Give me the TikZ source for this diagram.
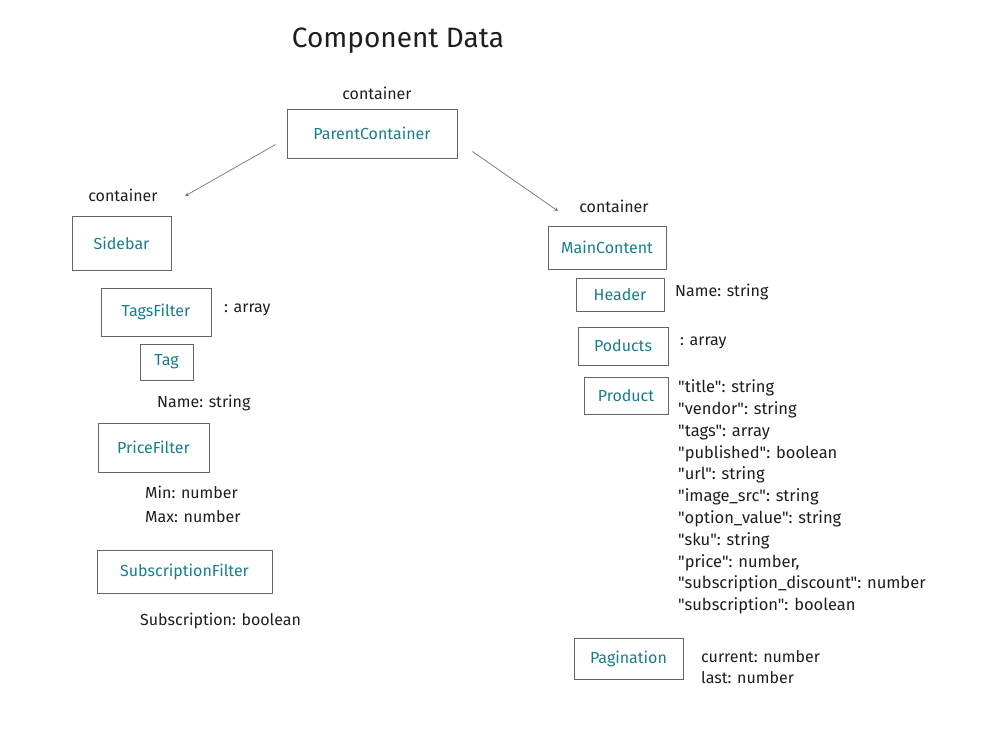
\documentclass[tikz,border=0pt]{standalone}
\usepackage{fontspec}
\setmainfont{Fira Sans}[Ligatures=TeXOff]
\definecolor{boxtext}{RGB}{25,125,140}
\definecolor{ink}{RGB}{30,30,30}
\tikzset{
  comp/.style={draw=black!60, line width=0.8pt, text=boxtext, font=\fontsize{16}{19}\selectfont, inner sep=0pt},
  note/.style={text=ink, font=\fontsize{16}{19}\selectfont, inner sep=0pt},
  link/.style={draw=black!55, line width=0.7pt, ->, >=stealth}
}
\begin{document}
\begin{tikzpicture}[x=1pt,y=-1pt]
\useasboundingbox (0,0) rectangle (1002,747);

\node[text=ink,font=\fontsize{28}{30}\selectfont] (title) at (398,41) {Component Data};

%parent
\node[note] (pccont) at (377,93) {container};
\node[comp,minimum width=170pt,minimum height=49pt] (pc) at (372,133.5) {ParentContainer};

%left column
\node[note] (sbcont) at (123,195) {container};
\node[comp,minimum width=99pt,minimum height=54pt] (sb) at (121.5,243) {Sidebar};
\node[comp,minimum width=110pt,minimum height=48pt] (tf) at (156,312) {TagsFilter};
\node[note,anchor=west] (tfnote) at (224,310) {: array};
\node[comp,minimum width=53pt,minimum height=36pt] (tag) at (166.5,362) {Tag};
\node[note,anchor=west] (tagnote) at (157,403) {Name: string};
\node[comp,minimum width=111pt,minimum height=49pt] (prf) at (153.5,447.5) {PriceFilter};
\node[note,anchor=west,align=left,font=\fontsize{16}{24}\selectfont] (prfnote) at (145,504) {Min: number\\Max: number};
\node[comp,minimum width=175pt,minimum height=43pt] (sf) at (184.5,571.5) {SubscriptionFilter};
\node[note,anchor=west] (sfnote) at (140,621) {Subscription: boolean};

%right column
\node[note] (mccont) at (614,206) {container};
\node[comp,minimum width=118pt,minimum height=43pt] (mc) at (607,247.5) {MainContent};
\node[comp,minimum width=88pt,minimum height=33pt] (hd) at (620,294.5) {Header};
\node[note,anchor=west] (hdnote) at (675,292) {Name: string};
\node[comp,minimum width=90pt,minimum height=38pt] (pd) at (623,346) {Poducts};
\node[note,anchor=west] (pdnote) at (680,343) {: array};
\node[comp,minimum width=84pt,minimum height=37pt] (pr) at (626,395.5) {Product};
\node[note,anchor=west,align=left,font=\fontsize{16.5}{21.8}\selectfont] (prnote) at (678,497) {"title": string\\"vendor": string\\"tags": array\\"published": boolean\\"url": string\\"image\_src": string\\"option\_value": string\\"sku": string\\"price": number,\\"subscription\_discount": number\\"subscription": boolean};
\node[comp,minimum width=109pt,minimum height=41pt] (pg) at (628.5,658.5) {Pagination};
\node[note,anchor=west,align=left,font=\fontsize{16}{21}\selectfont] (pgnote) at (701,667.5) {current: number\\last: number};

%arrows
\coordinate (sbtip) at (185,196);
\coordinate (mctip) at (558,211);
\draw[link] ([shift={(-11,11)}]pc.west) -- (sbtip);
\draw[link] ([shift={(15,18)}]pc.east) -- (mctip);

\end{tikzpicture}
\end{document}
